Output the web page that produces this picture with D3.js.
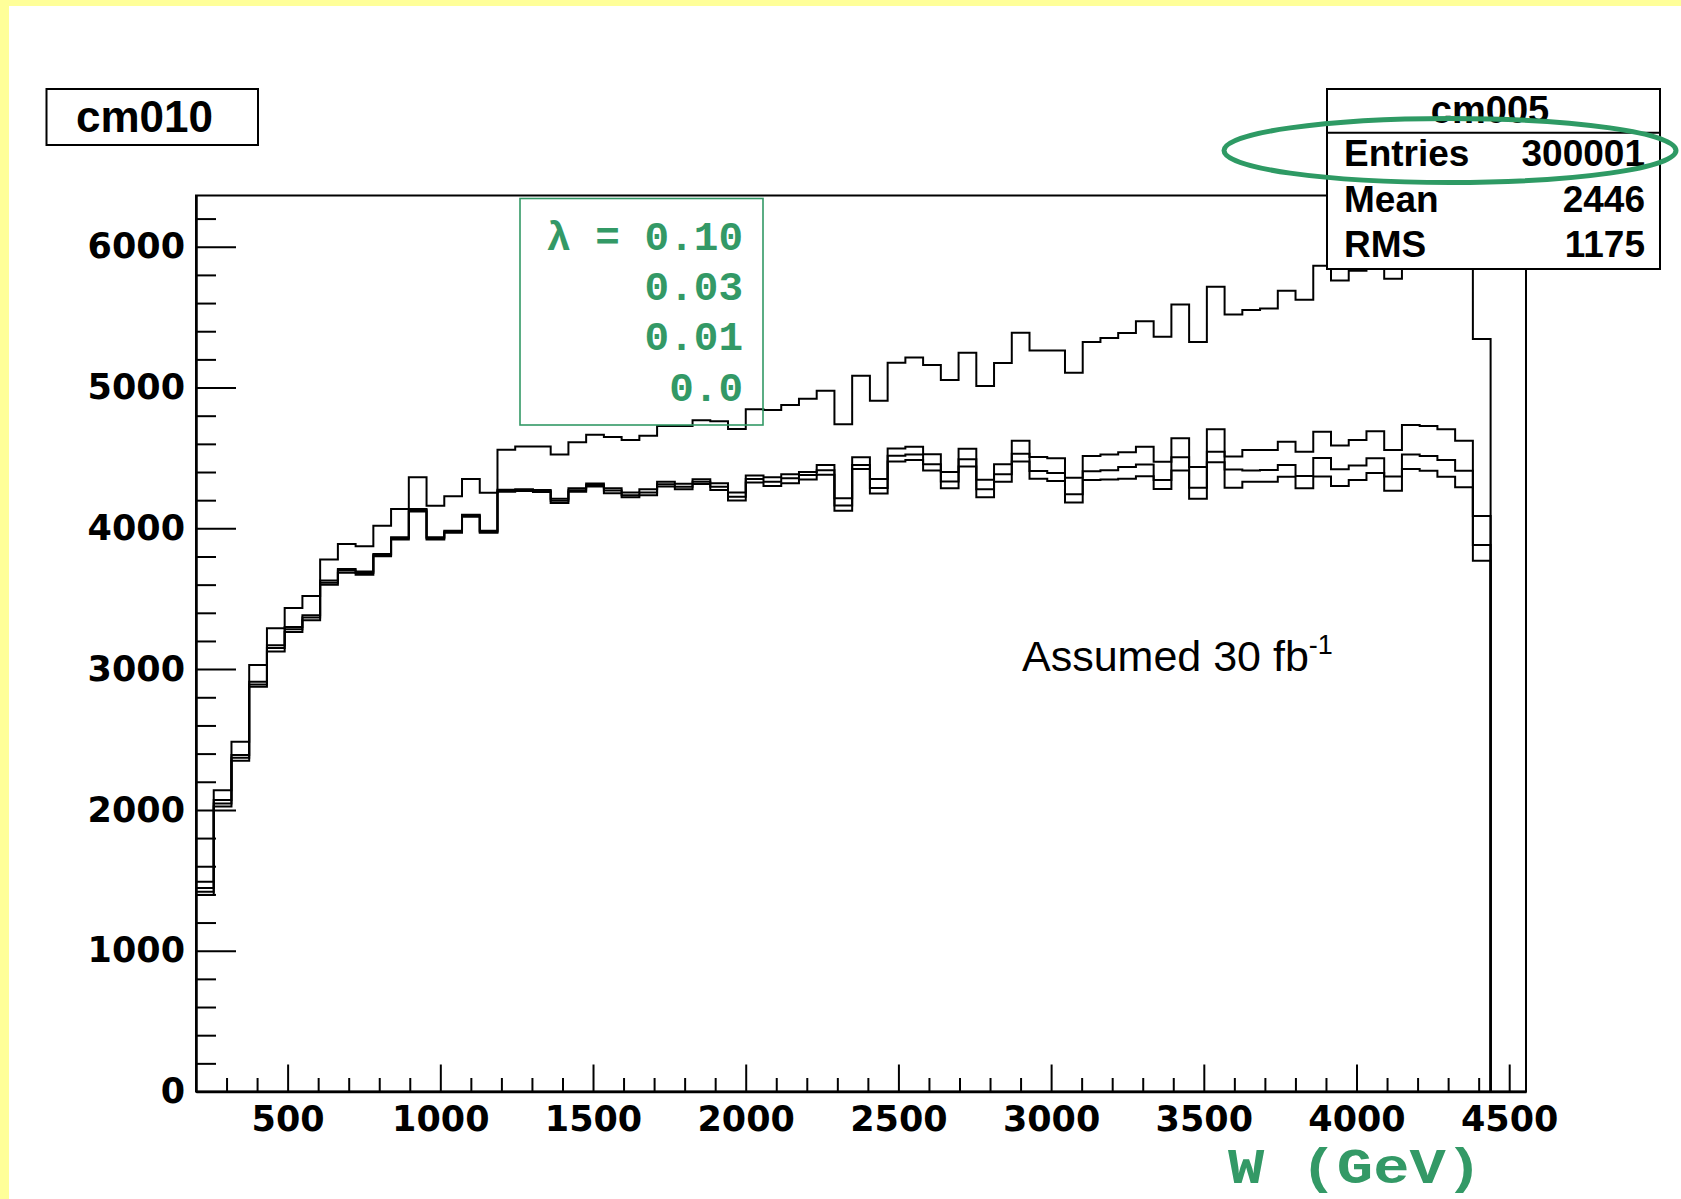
<!DOCTYPE html>
<html><head><meta charset="utf-8">
<script src="https://cdn.jsdelivr.net/npm/d3@7"></script>
<style>body{margin:0;background:#fff;overflow:hidden}</style>
</head><body><svg id="c" width="1681" height="1199"></svg>
<script>
// ---- data ----
const binLow = 200;          // GeV, left edge of first bin
const binWidth = 58.07;      // GeV per bin
const lam010 = [1490,2140,2485,3030,3290,3435,3519,3778,3889,3873,4019,4137,4363,4160,4228,4351,4252,4558,4582,4582,4525,4612,4665,4648,4628,4658,4727,4727,4767,4760,4705,4845,4840,4876,4920,4978,4740,5084,4906,5176,5214,5160,5053,5247,5011,5174,5389,5263,5263,5105,5323,5352,5387,5470,5361,5590,5323,5716,5518,5550,5562,5688,5624,5865,5760,5830,5920,5773,5980,6060,5960,6010,5344];
const lam003 = [1445,2070,2390,2910,3170,3300,3382,3630,3712,3693,3818,3936,4137,3936,3983,4097,3983,4274,4278,4272,4210,4284,4318,4285,4255,4278,4330,4316,4348,4320,4254,4375,4363,4384,4401,4449,4213,4505,4351,4567,4580,4527,4401,4565,4345,4455,4622,4506,4497,4360,4513,4525,4540,4580,4473,4639,4435,4703,4511,4556,4556,4615,4544,4686,4588,4627,4690,4556,4734,4727,4703,4622,4087];
const lam001 = [1418,2045,2370,2890,3150,3283,3366,3613,3700,3682,3811,3929,4130,3929,3976,4090,3976,4267,4272,4265,4196,4270,4308,4268,4235,4255,4313,4295,4331,4296,4225,4351,4331,4356,4378,4413,4162,4450,4286,4515,4525,4455,4333,4490,4278,4385,4530,4408,4393,4242,4405,4412,4435,4453,4343,4504,4288,4544,4418,4411,4414,4450,4371,4500,4420,4446,4497,4369,4525,4513,4485,4409,3881];
const lam000 = [1396,2025,2350,2875,3125,3264,3347,3599,3684,3670,3802,3920,4120,3920,3969,4083,3969,4259,4266,4258,4180,4260,4298,4250,4220,4235,4298,4278,4315,4272,4197,4325,4300,4321,4346,4380,4125,4422,4248,4475,4485,4410,4284,4440,4220,4330,4475,4352,4337,4184,4343,4346,4352,4370,4280,4410,4210,4470,4288,4331,4331,4367,4284,4369,4300,4343,4393,4267,4422,4409,4367,4291,3770];
const legendLines = ["λ = 0.10", "0.03", "0.01", "0.0"];
const xTickValues = [500,1000,1500,2000,2500,3000,3500,4000,4500];
const xMinorValues = [300,400,600,700,800,900,1100,1200,1300,1400,1600,1700,1800,1900,2100,2200,2300,2400,2600,2700,2800,2900,3100,3200,3300,3400,3600,3700,3800,3900,4100,4200,4300,4400];
const yTickValues = [0,1000,2000,3000,4000,5000,6000];
const yMinorValues = [200,400,600,800,1200,1400,1600,1800,2200,2400,2600,2800,3200,3400,3600,3800,4200,4400,4600,4800,5200,5400,5600,5800,6200];
const padTitle = "cm010";
const statsTitle = "cm005";
const statsLabels = ["Entries", "Mean", "RMS"];
const statsValues = ["300001", "2446", "1175"];
const xTitle = "W (GeV)";
const noteText = "Assumed 30 fb";
const noteSup = "-1";
const xDomain = [200, 4555];
const yDomain = [0, 6364];

// ---- drawing ----
const green = "#339966";
const svg = d3.select("#c");
svg.append("rect").attr("x",0).attr("y",0).attr("width",1681).attr("height",1199).attr("fill","#fff");
svg.append("rect").attr("x",0).attr("y",0).attr("width",1681).attr("height",6).attr("fill","#ffff99");
svg.append("rect").attr("x",0).attr("y",0).attr("width",9).attr("height",1199).attr("fill","#ffff99");

const x = d3.scaleLinear().domain(xDomain).range([196, 1526]);
const y = d3.scaleLinear().domain(yDomain).range([1091.5, 195.5]);

// frame
svg.append("rect").attr("x",x(xDomain[0])).attr("y",y(yDomain[1]))
  .attr("width",x(xDomain[1])-x(xDomain[0])).attr("height",y(0)-y(yDomain[1]))
  .attr("fill","none").attr("stroke","#000").attr("stroke-width",2);

// histograms
const line = d3.line().x(d=>x(d[0])).y(d=>y(d[1])).curve(d3.curveStepAfter);
function histPoints(vals){
  const pts=[[binLow,0]];
  vals.forEach((v,i)=>pts.push([binLow+i*binWidth, v]));
  pts.push([binLow+vals.length*binWidth, 0]);
  return pts;
}
[lam000, lam001, lam003, lam010].forEach(s=>{
  svg.append("path").attr("d", line(histPoints(s)))
    .attr("fill","none").attr("stroke","#000").attr("stroke-width",2).attr("stroke-linejoin","miter");
});

// axes
const tickFont = "'DejaVu Sans', sans-serif";
function styleAxis(g){
  g.attr("font-family", tickFont).attr("font-size", 35).attr("font-weight","bold");
  g.selectAll("line").attr("stroke","#000").attr("stroke-width",2);
  g.selectAll("path").attr("stroke","#000").attr("stroke-width",2.5);
  g.selectAll("text").attr("fill","#000");
}
const yAxis = svg.append("g").attr("transform",`translate(${x(xDomain[0])},0)`)
  .call(d3.axisLeft(y).tickValues(yTickValues).tickSizeInner(-40).tickSizeOuter(0).tickPadding(11).tickFormat(d3.format("d")));
styleAxis(yAxis);
const yMinor = svg.append("g").attr("transform",`translate(${x(xDomain[0])},0)`)
  .call(d3.axisLeft(y).tickValues(yMinorValues).tickSizeInner(-20).tickSizeOuter(0).tickFormat(""));
styleAxis(yMinor); yMinor.select("path").remove();

const xAxis = svg.append("g").attr("transform",`translate(0,${y(0)})`)
  .call(d3.axisBottom(x).tickValues(xTickValues).tickSizeInner(-27).tickSizeOuter(0).tickPadding(15).tickFormat(d3.format("d")));
styleAxis(xAxis);
const xMinor = svg.append("g").attr("transform",`translate(0,${y(0)})`)
  .call(d3.axisBottom(x).tickValues(xMinorValues).tickSizeInner(-13.5).tickSizeOuter(0).tickFormat(""));
styleAxis(xMinor); xMinor.select("path").remove();

// legend box (green)
svg.append("rect").attr("x",520).attr("y",198.5).attr("width",243).attr("height",226.5)
  .attr("fill","none").attr("stroke",green).attr("stroke-width",1.6);
const legBase = [250, 299.5, 350, 400.5];
legendLines.forEach((t,i)=>{
  svg.append("text").attr("x",743).attr("y",legBase[i]).attr("text-anchor","end")
    .attr("font-family","'Liberation Mono', monospace").attr("font-weight","bold")
    .attr("font-size",41).attr("fill",green).attr("xml:space","preserve").text(t);
});

// annotation
const note = svg.append("text").attr("x",1022).attr("y",671)
  .attr("font-family","'Liberation Sans', Arial, sans-serif").attr("font-size",43).attr("fill","#000");
note.append("tspan").text(noteText);
note.append("tspan").attr("dy",-17).attr("font-size",27).text(noteSup);

// x title
svg.append("text").attr("x",1228).attr("y",1183)
  .attr("font-family","'Liberation Mono', monospace").attr("font-weight","bold")
  .attr("font-size",50).attr("textLength",254).attr("lengthAdjust","spacingAndGlyphs")
  .attr("fill",green).attr("xml:space","preserve").text(xTitle);

// pad title box
svg.append("rect").attr("x",46.5).attr("y",89).attr("width",211.5).attr("height",56)
  .attr("fill","#fff").attr("stroke","#000").attr("stroke-width",2);
svg.append("text").attr("x",76).attr("y",131.5)
  .attr("font-family","'Liberation Sans', Arial, sans-serif").attr("font-weight","bold")
  .attr("font-size",44).attr("fill","#000").text(padTitle);

// stats box
svg.append("rect").attr("x",1327).attr("y",89).attr("width",333).attr("height",180)
  .attr("fill","#fff").attr("stroke","#000").attr("stroke-width",2);
svg.append("line").attr("x1",1327).attr("x2",1660).attr("y1",132.7).attr("y2",132.7)
  .attr("stroke","#000").attr("stroke-width",2);
svg.append("text").attr("x",1490).attr("y",122.5).attr("text-anchor","middle")
  .attr("font-family","'Liberation Sans', Arial, sans-serif").attr("font-weight","bold")
  .attr("font-size",38).attr("fill","#000").text(statsTitle);
const rowBase = [166, 211.5, 256.5];
statsLabels.forEach((t,i)=>{
  svg.append("text").attr("x",1344).attr("y",rowBase[i])
    .attr("font-family","'Liberation Sans', Arial, sans-serif").attr("font-weight","bold")
    .attr("font-size",37).attr("fill","#000").text(t);
  svg.append("text").attr("x",1645).attr("y",rowBase[i]).attr("text-anchor","end")
    .attr("font-family","'Liberation Sans', Arial, sans-serif").attr("font-weight","bold")
    .attr("font-size",37).attr("fill","#000").text(statsValues[i]);
});
// highlight ellipse
svg.append("ellipse").attr("cx",1450).attr("cy",150.5).attr("rx",226).attr("ry",32)
  .attr("fill","none").attr("stroke","#2e9a64").attr("stroke-width",5);
</script>
</body></html>
